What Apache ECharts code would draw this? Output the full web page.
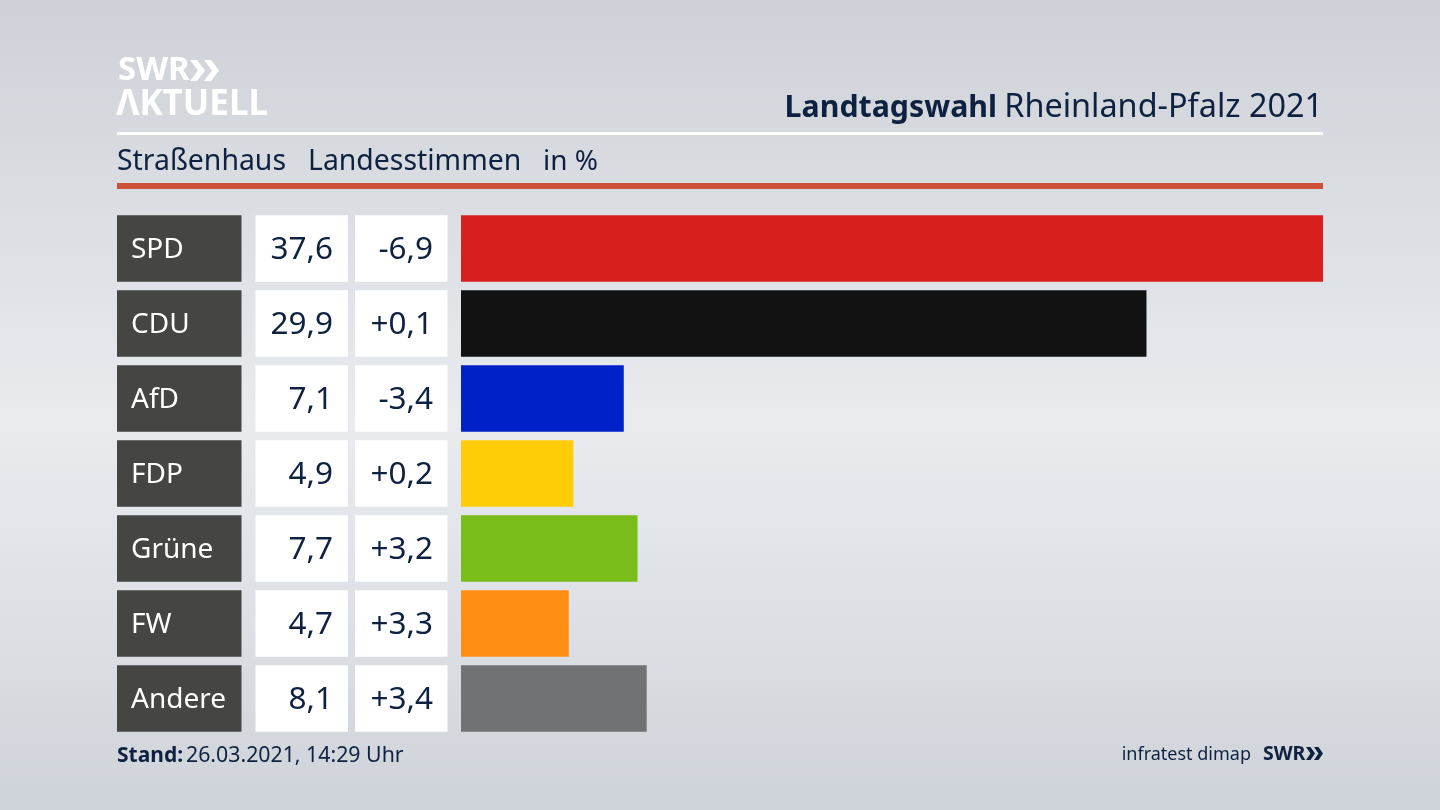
<!DOCTYPE html>
<html><head><meta charset="utf-8">
<style>html,body{margin:0;padding:0;background:#dfe1e6}#c{width:1440px;height:810px}</style>
<script src="https://cdn.jsdelivr.net/npm/echarts@6/dist/echarts.min.js"></script>
</head><body><div id="c"></div>
<script>
const parties = ['SPD','CDU','AfD','FDP','Grüne','FW','Andere'];
const shares = [37.6,29.9,7.1,4.9,7.7,4.7,8.1];
const changes = ['-6,9','+0,1','-3,4','+0,2','+3,2','+3,3','+3,4'];
const partyColors = ['#d71f1d','#121212','#0020c8','#ffcc08','#7abc1a','#ff8f14','#717274'];

const NAVY = '#0e2140', FONT = '"Noto Sans"';
const fmt = v => v.toFixed(1).replace('.', ',');
const chart = echarts.init(document.getElementById('c'), null, {renderer:'canvas'});

function txt(x, y, text, size, align, weight, color){
  return {type:'text', x, y, silent:true, style:{text, fontSize:size, fontFamily:FONT,
    fontWeight:weight||'normal', fill:color||NAVY, align:align||'left', verticalAlign:'middle'}};
}
function bar(x, y, w, h, fill){ return {type:'rect', shape:{x,y,width:w,height:h}, silent:true, style:{fill}}; }
function chevron(x, y, w, h, t, fill){
  return {type:'polygon', silent:true, style:{fill}, shape:{points:[
    [x,y],[x+t,y],[x+w,y+h/2],[x+t,y+h],[x,y+h],[x+w-t,y+h/2]]}};
}
function cell(x, w, bandY, h, fill, text, tx, align, color, size){
  return {type:'group', children:[
    {type:'rect', shape:{x, y:bandY-h/2, width:w, height:h}, style:{fill}},
    {type:'text', x:tx, y:bandY+2, style:{text, fontSize:size, fontFamily:FONT, fill:color, align, verticalAlign:'middle'}}
  ]};
}
chart.setOption({
  animation:false,
  graphic:{elements:[
    {type:'rect', z:-10, shape:{x:0,y:0,width:1440,height:810}, silent:true, style:{fill:
      new echarts.graphic.LinearGradient(0,0,0,1,[
        {offset:0,color:'#ced2d8'},{offset:.25,color:'#dadde2'},{offset:.52,color:'#e9ebef'},
        {offset:.78,color:'#dcdfe4'},{offset:1,color:'#ced3d9'}])}},
    txt(118,71,'SWR',33,'left','bold','#ffffff'),
    chevron(190,60,15,21,7,'#ffffff'),
    chevron(204,60,15,21,7,'#ffffff'),
    txt(116,105.5,'ΛKTUELL',35,'left','bold','#ffffff'),
    txt(997,108,'Landtagswahl',30.3,'right','bold'),
    txt(1323,108,'Rheinland-Pfalz 2021',32.4,'right'),
    bar(117,132,1206,3,'#ffffff'),
    txt(117,162,'Straßenhaus',28.4),
    txt(308,162,'Landesstimmen',28.4),
    txt(543,162,'in %',28),
    bar(117,183,1206,6,'#cc4f38'),
    txt(117,756,'Stand:',21,'left','bold'),
    txt(186,756,'26.03.2021, 14:29 Uhr',21.3),
    txt(1251,755,'infratest dimap',18,'right'),
    txt(1263,754.5,'SWR',19.5,'left','bold'),
    chevron(1306,747,9,13,4.5,NAVY),
    chevron(1314,747,9,13,4.5,NAVY)
  ]},
  grid:{left:461, top:211, width:862, height:525, containLabel:false},
  xAxis:{type:'value', min:0, max:37.6, show:false},
  yAxis:{type:'category', inverse:true, data:parties, show:false},
  series:[
    {type:'bar', barWidth:66.5, silent:true, data:shares.map((v,i)=>({value:v,itemStyle:{color:partyColors[i]}}))},
    {type:'custom', silent:true, clip:false, coordinateSystem:'cartesian2d',
     data:parties.map(p=>[0,p]),
     renderItem(params, api){
       const i = params.dataIndex, y = api.coord([0, parties[i]])[1], h = 66.5;
       return {type:'group', children:[
         cell(117,124.5,y,h,'#454543',parties[i],131,'left','#ffffff',28),
         cell(255.5,92.5,y,h,'#ffffff',fmt(shares[i]),333,'right',NAVY,31.5),
         cell(355,92.5,y,h,'#ffffff',changes[i],433,'right',NAVY,31.5)
       ]};
     }}
  ]
});
</script></body></html>
